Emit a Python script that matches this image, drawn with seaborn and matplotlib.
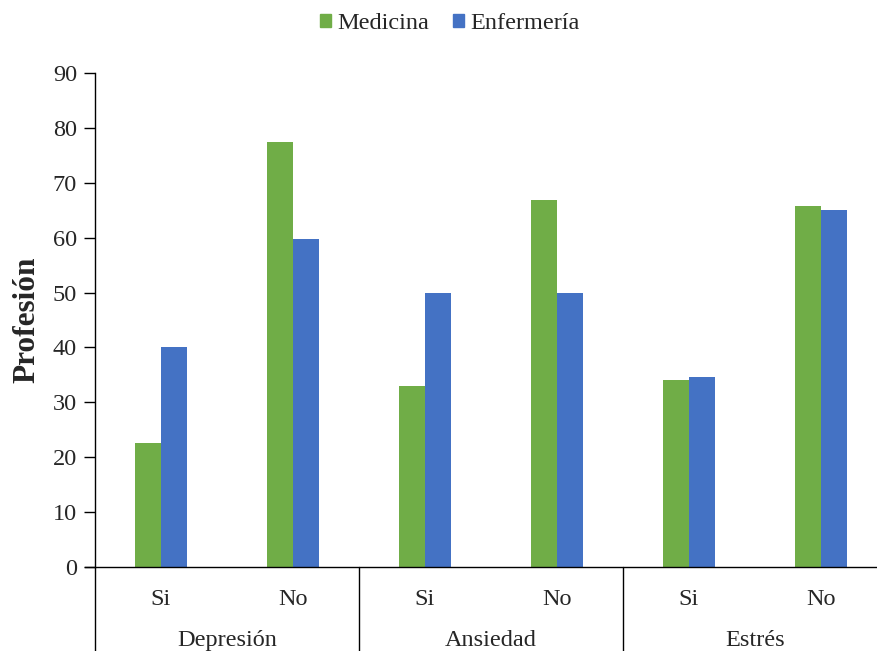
import matplotlib
matplotlib.use("Agg")
import matplotlib.pyplot as plt
import seaborn as sns
import pandas as pd

conditions = ["Depresión", "Ansiedad", "Estrés"]
answers = ["Si", "No"]
series = ["Medicina", "Enfermería"]
medicina = [22.6, 77.4, 33.0, 66.8, 34.0, 65.8]
enfermeria = [40.0, 59.7, 50.0, 50.0, 34.7, 65.1]
colors = ["#70AD47", "#4472C4"]
y_ticks = [0, 10, 20, 30, 40, 50, 60, 70, 80, 90]

sns.set_theme(style="white")
plt.rcParams["font.family"] = ["Liberation Serif", "DejaVu Serif"]

keys = [f"{c}|{a}" for c in conditions for a in answers]
rows = []
for i, k in enumerate(keys):
    rows.append({"cat": k, "serie": series[0], "val": medicina[i]})
    rows.append({"cat": k, "serie": series[1], "val": enfermeria[i]})
df = pd.DataFrame(rows)

FS = 17.5
fig = plt.figure(figsize=(8.77, 6.51), dpi=100)
ax = fig.add_axes([95/877, 84/651, 782/877, (567-73)/651])
sns.barplot(data=df, x="cat", y="val", hue="serie", order=keys,
            hue_order=series, palette=colors, width=0.394, saturation=1,
            linewidth=0, ax=ax, legend=False)

ax.set_xlim(-0.5, -0.5 + 782/132)
ax.set_ylim(0, 90)
ax.set_yticks(y_ticks)
ax.set_yticklabels([str(t) for t in y_ticks], fontsize=FS)
ax.tick_params(axis="y", length=8, width=1, color="black", direction="out", pad=5, left=True)
ax.set_xticks(range(len(keys)))
ax.set_xticklabels([k.split("|")[1] for k in keys], fontsize=FS)
ax.tick_params(axis="x", length=0, pad=16)
ax.set_xlabel("")
ax.set_ylabel("Profesión", fontsize=22.5, fontweight="bold", labelpad=8)

for side in ["top", "right"]:
    ax.spines[side].set_visible(False)
for side in ["left", "bottom"]:
    ax.spines[side].set_color("black")
    ax.spines[side].set_linewidth(1)
ax.spines["bottom"].set_bounds(-0.5 - 10/132, -0.5 + 782/132)

trans = ax.get_xaxis_transform()
depth = 84 / 494
for g in range(len(conditions)):
    xb = g * 2 - 0.5
    ax.plot([xb, xb], [0, -depth], transform=trans, color="black", lw=1, clip_on=False)
    ax.text(g * 2 + 0.5, -0.148, conditions[g], transform=trans, ha="center",
            va="center", fontsize=FS)
ax.plot([5.5, 5.5], [0, -depth], transform=trans, color="black", lw=1, clip_on=False)

handles = [plt.Rectangle((0, 0), 1, 1, color=c) for c in colors]
fig.legend(handles, series, loc="upper center", bbox_to_anchor=(0.513, 1.013),
           ncol=2, frameon=False, fontsize=FS, handlelength=0.45,
           handleheight=0.45, handletextpad=0.25, columnspacing=1.0)

fig.savefig("out.png", dpi=100)
